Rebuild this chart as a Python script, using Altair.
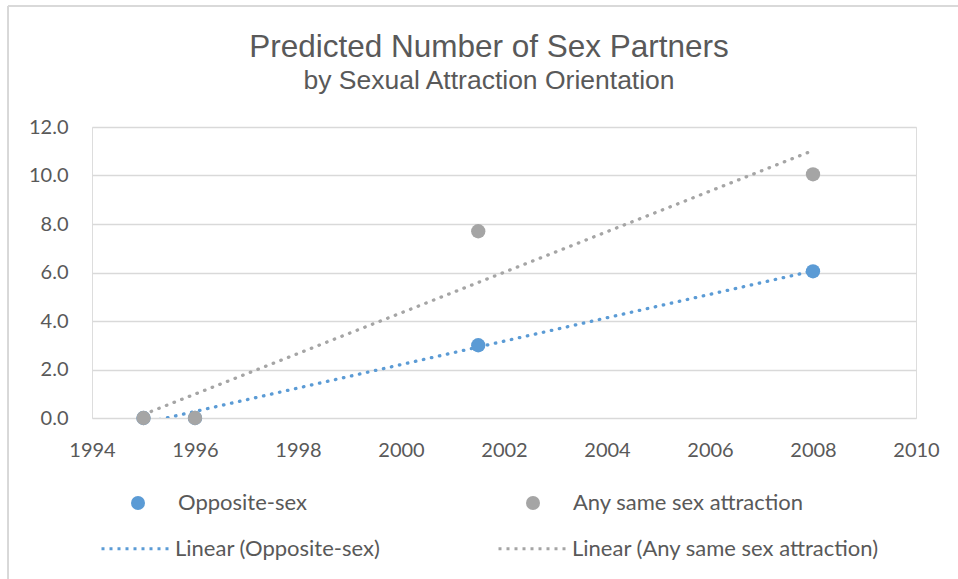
import altair as alt
import pandas as pd

# Survey waves (x) and predicted partner counts (y) per attraction group
years = [1995, 1996, 2001.5, 2008]
opposite_sex = [0.0, 0.0, 3.0, 6.05]
any_same_sex = [0.0, 0.0, 7.7, 10.05]

series_names = ["Opposite-sex", "Any same sex attraction"]
trend_names = ["Linear (Opposite-sex)", "Linear (Any same sex attraction)"]
series_colors = ["#5B9BD5", "#A5A5A5"]

x_ticks = list(range(1994, 2011, 2))
y_ticks = [0, 2, 4, 6, 8, 10, 12]

rows = []
for name, values in zip(series_names, [opposite_sex, any_same_sex]):
    for yr, v in zip(years, values):
        rows.append({"year": yr, "value": v, "series": name})
df = pd.DataFrame(rows)

TEXT = "#595959"
GRID = "#D9D9D9"
FONT = "Lato"

x_enc = alt.X(
    "year:Q",
    scale=alt.Scale(domain=[1994, 2010], nice=False, zero=False),
    axis=alt.Axis(values=x_ticks, format="d", title=None, grid=False, domain=False,
                  ticks=False, labelFlush=False, labelPadding=22, labelFontSize=20,
                  labelFont=FONT, labelColor=TEXT),
)
y_enc = alt.Y(
    "value:Q",
    scale=alt.Scale(domain=[0, 12], nice=False),
    axis=alt.Axis(values=y_ticks, format=".1f", title=None, domain=False, ticks=False,
                  labelPadding=24, labelFontSize=20, labelFont=FONT, labelColor=TEXT,
                  gridColor=GRID, gridWidth=1.4),
)

base = alt.Chart(df)

# Least-squares trend lines over the observed range, clipped at the axis floor
trend = base.transform_regression(
    "year", "value", groupby=["series"], extent=[1995, 2008]
).transform_calculate(
    trend="'Linear (' + datum.series + ')'"
).mark_line(
    strokeDash=[0.5, 7.7], strokeWidth=3.3, strokeCap="round", clip=True
).encode(
    x=x_enc,
    y=y_enc,
    detail="series:N",
    color=alt.Color(
        "trend:N",
        scale=alt.Scale(domain=trend_names, range=series_colors),
        sort=trend_names,
        legend=alt.Legend(
            title=None, orient="none", legendX=8, legendY=385, direction="horizontal",
            columns=2, columnPadding=111, symbolType="stroke", symbolSize=4900,
            symbolStrokeWidth=3, symbolDash=[3, 5], labelOffset=2, labelFont=FONT,
            labelFontSize=22, labelColor=TEXT, labelLimit=400,
        ),
    ),
)

points = base.mark_circle(size=205, opacity=1).encode(
    x=x_enc,
    y=y_enc,
    color=alt.Color(
        "series:N",
        scale=alt.Scale(domain=series_names, range=series_colors),
        sort=series_names,
        legend=alt.Legend(
            title=None, orient="none", legendX=35, legendY=365, direction="horizontal",
            columns=2, columnPadding=215, symbolType="circle", symbolSize=196,
            symbolStrokeWidth=0, symbolOpacity=1, labelOffset=29, labelFont=FONT,
            labelFontSize=22, labelColor=TEXT, labelLimit=400,
        ),
    ),
)

# Chart-area frame (left and top edges)
frame_left = alt.Chart(df).mark_rule(color=GRID, strokeWidth=1.6).encode(
    x=alt.value(-84), y=alt.value(-121), y2=alt.value(460)
)
frame_top = alt.Chart(df).mark_rule(color=GRID, strokeWidth=1.6).encode(
    x=alt.value(-84), x2=alt.value(900), y=alt.value(-121)
)

chart = alt.layer(frame_left, frame_top, trend, points).resolve_scale(
    color="independent"
).properties(
    width=824,
    height=291,
    padding={"left": 92, "top": 127, "right": 42, "bottom": 161},
    autosize=alt.AutoSizeParams(type="none"),
    title=alt.TitleParams(
        text="Predicted Number of Sex Partners",
        subtitle="by Sexual Attraction Orientation",
        font="Liberation Sans", fontSize=31.5, fontWeight="normal", color=TEXT,
        subtitleFont="Liberation Sans", subtitleFontSize=26.5, subtitleColor=TEXT,
        subtitlePadding=4, anchor="middle", dx=-15, dy=117, offset=28,
    ),
).configure_view(stroke=None).configure(background="white")

chart.save("out.html", embed_options={"renderer": "svg", "actions": False})
